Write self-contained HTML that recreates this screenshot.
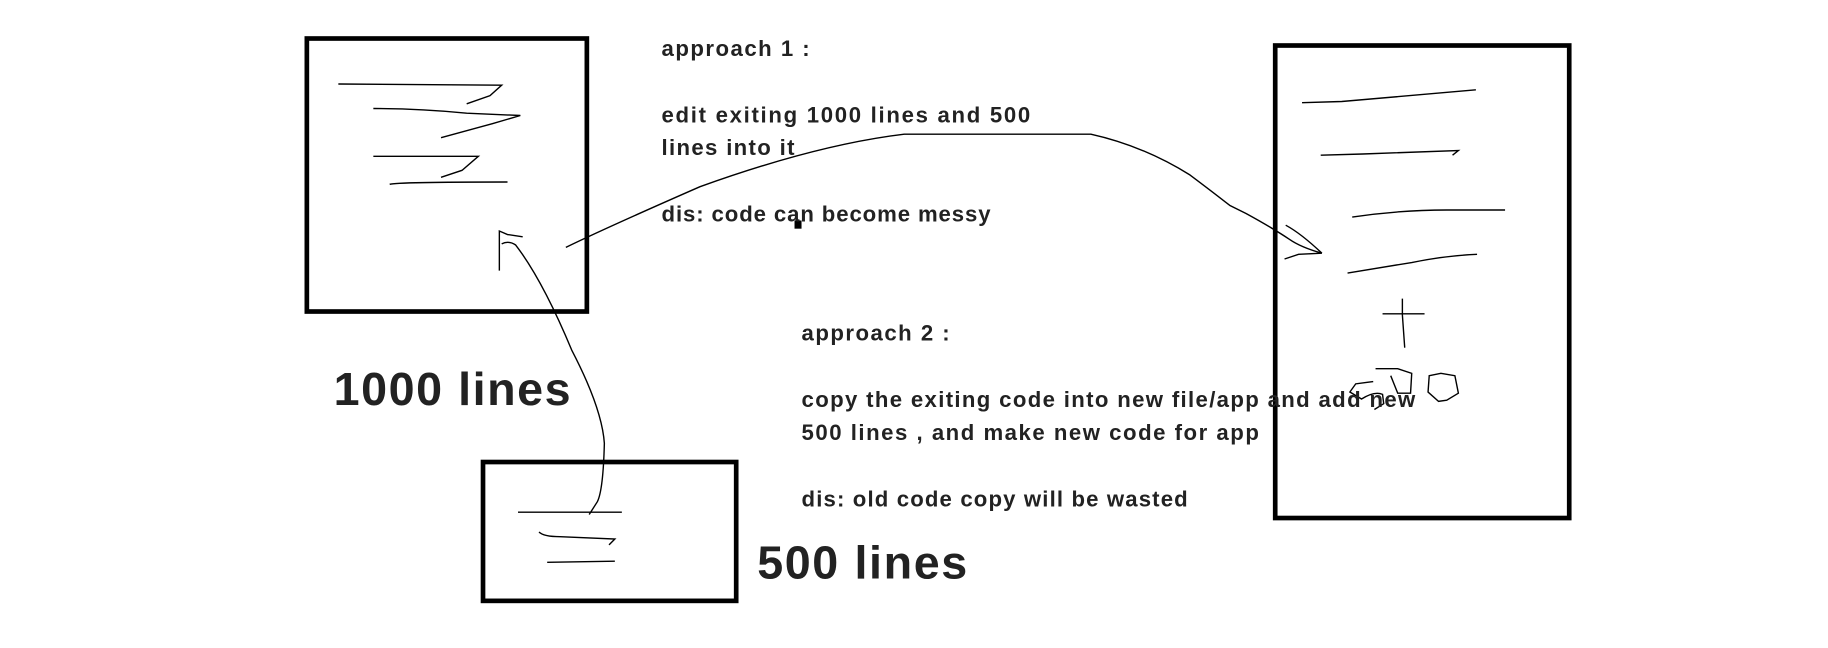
<!DOCTYPE html>
<html><head><meta charset="utf-8"><style>
html,body{margin:0;padding:0;background:#fff;}
svg{display:block;}
text{font-family:"Liberation Sans",sans-serif;font-weight:bold;fill:#222;}
</style></head><body>
<svg width="1828" height="648" viewBox="0 0 1566.8 555.4" xmlns="http://www.w3.org/2000/svg">
<g fill="none" stroke="#000">
<rect x="263" y="33" width="240" height="234" stroke-width="4"/>
<rect x="414" y="396" width="217" height="119" stroke-width="4"/>
<rect x="1093" y="39" width="252" height="405" stroke-width="4"/>
<g stroke-width="1.2">
<path d="M290 72 L430 73 L420 82 L400 89"/>
<path d="M320 93 Q360 93 400 97 L446 99 L422 106 L378 118"/>
<path d="M320 134 L410 134 L396 146 L378 152"/>
<path d="M334 158 Q340 156 435 156"/>
<path d="M428 232 L428 198 L435 201 L448 203"/>
<path d="M430 209 Q436 206 442 210 Q465 240 490 300 Q516 350 518 380 Q517 420 512 430 L505 441"/>
<path d="M444 439 L533 439"/>
<path d="M462 456 Q466 460 480 460 L527 462 L522 467"/>
<path d="M469 482 L527 481"/>
<path d="M485 212 Q520 195 600 160 Q700 124 775 115 L935 115 Q980 125 1020 150 Q1040 165 1054 176 L1068 183 Q1090 195 1105 205 Q1115 212 1133 217 L1113 218 L1101 222"/>
<path d="M1102 193 Q1115 200 1133 217"/>
<path d="M1116 88 L1150 87 L1265 77"/>
<path d="M1132 133 L1168 132 L1250 129 L1245 133"/>
<path d="M1159 186 Q1200 180 1240 180 L1290 180"/>
<path d="M1155 234 Q1180 230 1210 225 Q1240 219 1266 218"/>
<path d="M1185 269 L1221 269 M1202 256 L1202 270 L1204 298"/>
<path d="M1177 327 L1162 329 L1157 336 L1167 342 Q1178 335 1185 338 L1186 346 L1178 351 M1179 316 L1198 316 L1210 320 L1209 337 L1198 337 L1192 322 M1224 336 L1225 322 L1235 320 L1247 322 L1250 337 L1240 343 L1233 344 Z"/>
</g>
</g>
<rect x="681" y="189" width="6" height="7" fill="#000"/>
<g font-size="19">
<text x="567" y="48" textLength="127" lengthAdjust="spacing">approach 1 :</text>
<text x="567" y="105" textLength="316" lengthAdjust="spacing">edit exiting 1000 lines and 500</text>
<text x="567" y="133" textLength="114" lengthAdjust="spacing">lines into it</text>
<text x="567" y="190" textLength="282" lengthAdjust="spacing">dis: code can become messy</text>
<text x="687" y="292" textLength="127" lengthAdjust="spacing">approach 2 :</text>
<text x="687" y="349" textLength="526" lengthAdjust="spacing">copy the exiting code into new file/app and add new</text>
<text x="687" y="377" textLength="392" lengthAdjust="spacing">500 lines , and make new code for app</text>
<text x="687" y="434" textLength="331" lengthAdjust="spacing">dis: old code copy will be wasted</text>
</g>
<text x="286" y="347" font-size="40" textLength="203" lengthAdjust="spacing">1000 lines</text>
<text x="649" y="496" font-size="40" textLength="180" lengthAdjust="spacing">500 lines</text>
</svg>
</body></html>
